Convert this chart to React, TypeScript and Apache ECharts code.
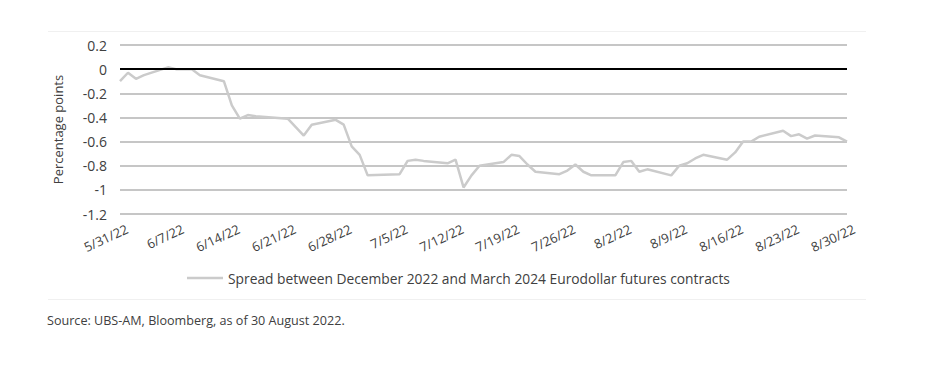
import React, { useEffect, useRef } from "react";
import * as echarts from "echarts";

const tickLabels = ["5/31/22", "6/7/22", "6/14/22", "6/21/22", "6/28/22", "7/5/22", "7/12/22", "7/19/22", "7/26/22", "8/2/22", "8/9/22", "8/16/22", "8/23/22", "8/30/22"];

// day offsets from 5/31/22 (business days)
const days = [0, 1, 2, 3, 6, 7, 8, 9, 10, 13, 14, 15, 16, 17, 21, 22, 23, 24, 27, 28, 29, 30, 31, 35, 36, 37, 38, 41, 42, 43, 44, 45, 48, 49, 50, 51, 52, 55, 56, 57, 58, 59, 62, 63, 64, 65, 66, 69, 70, 71, 72, 73, 76, 77, 78, 79, 80, 83, 84, 85, 86, 87, 90, 91];
const spread = [-0.10, -0.03, -0.08, -0.05, 0.015, 0.0, 0.0, 0.0, -0.05, -0.10, -0.30, -0.41, -0.38, -0.39, -0.41, -0.48, -0.55, -0.46, -0.42, -0.46, -0.64, -0.71, -0.88, -0.87, -0.76, -0.75, -0.76, -0.78, -0.75, -0.98, -0.88, -0.80, -0.77, -0.71, -0.72, -0.79, -0.85, -0.87, -0.84, -0.79, -0.85, -0.88, -0.88, -0.77, -0.76, -0.85, -0.83, -0.88, -0.80, -0.78, -0.74, -0.71, -0.75, -0.69, -0.60, -0.60, -0.56, -0.51, -0.555, -0.54, -0.575, -0.55, -0.565, -0.60];

const seriesName = "Spread between December 2022 and March 2024 Eurodollar futures contracts";
const yAxisName = "Percentage points";
const sourceText = "Source: UBS-AM, Bloomberg, as of 30 August 2022.";

const FONT = "'Open Sans', 'Noto Sans', sans-serif";
const TXT = "#404040";

export default function App() {
  const ref = useRef<HTMLDivElement>(null);
  useEffect(() => {
    document.body.style.margin = "0";
    const chart = echarts.init(ref.current!, null, { renderer: "svg" });
    chart.setOption({
      animation: false,
      backgroundColor: "#ffffff",
      textStyle: { fontFamily: FONT },
      grid: [
        { left: 120, right: 82, top: 45, height: 169 },
        { left: 127, right: 75, top: 45, height: 169 },
      ],
      xAxis: [
        {
          type: "value",
          gridIndex: 0,
          min: 0,
          max: 91,
          interval: 7,
          axisLine: { show: false },
          axisTick: { show: false },
          splitLine: { show: false },
          axisLabel: { show: false },
        },
        {
          type: "value",
          gridIndex: 1,
          min: 0,
          max: 91,
          interval: 7,
          axisLine: { show: false },
          axisTick: { show: false },
          splitLine: { show: false },
          axisLabel: {
            rotate: 25,
            fontSize: 13,
            color: TXT,
            fontFamily: FONT,
            margin: 14,
            formatter: (v: number) => tickLabels[Math.round(v / 7)] ?? "",
          },
        },
      ],
      yAxis: [
        {
          type: "value",
          gridIndex: 0,
          min: -1.2,
          max: 0.2,
          interval: 0.2,
          name: yAxisName,
          nameLocation: "middle",
          nameGap: 56,
          nameTextStyle: { fontSize: 13, color: TXT, fontFamily: FONT },
          axisLine: { show: false },
          axisTick: { show: false },
          axisLabel: {
            fontSize: 14,
            color: TXT,
            fontFamily: FONT,
            margin: 13,
            formatter: (v: number) => String(Math.round(v * 10) / 10),
          },
          splitLine: { lineStyle: { color: "#b3b3b3", width: 1.5 } },
        },
        {
          type: "value",
          gridIndex: 1,
          min: -1.2,
          max: 0.2,
          interval: 0.2,
          show: false,
        },
      ],
      legend: {
        left: 182,
        top: 266,
        icon: "rect",
        itemWidth: 36,
        itemHeight: 2.5,
        textStyle: { fontSize: 13.8, color: TXT, fontFamily: FONT },
        data: [seriesName],
      },
      graphic: [
        { type: "line", shape: { x1: 48, y1: 31.5, x2: 866, y2: 31.5 }, style: { stroke: "#f0f0f0", lineWidth: 1 }, silent: true },
        { type: "line", shape: { x1: 48, y1: 299.5, x2: 866, y2: 299.5 }, style: { stroke: "#f0f0f0", lineWidth: 1 }, silent: true },
        { type: "text", left: 47, top: 314, style: { text: sourceText, fontSize: 12.6, fill: TXT, fontFamily: FONT } },
      ],
      series: [
        {
          name: seriesName,
          type: "line",
          xAxisIndex: 0,
          yAxisIndex: 0,
          data: days.map((d, i) => [d, spread[i]]),
          showSymbol: false,
          symbol: "none",
          lineStyle: { color: "#cbcbcb", width: 2.5 },
          itemStyle: { color: "#cbcbcb" },
          markLine: {
            silent: true,
            symbol: "none",
            label: { show: false },
            lineStyle: { color: "#000000", width: 2, type: "solid" },
            data: [{ yAxis: 0 }],
          },
          z: 3,
        },
      ],
    });
    return () => chart.dispose();
  }, []);
  return <div ref={ref} style={{ width: 929, height: 377 }} />;
}
